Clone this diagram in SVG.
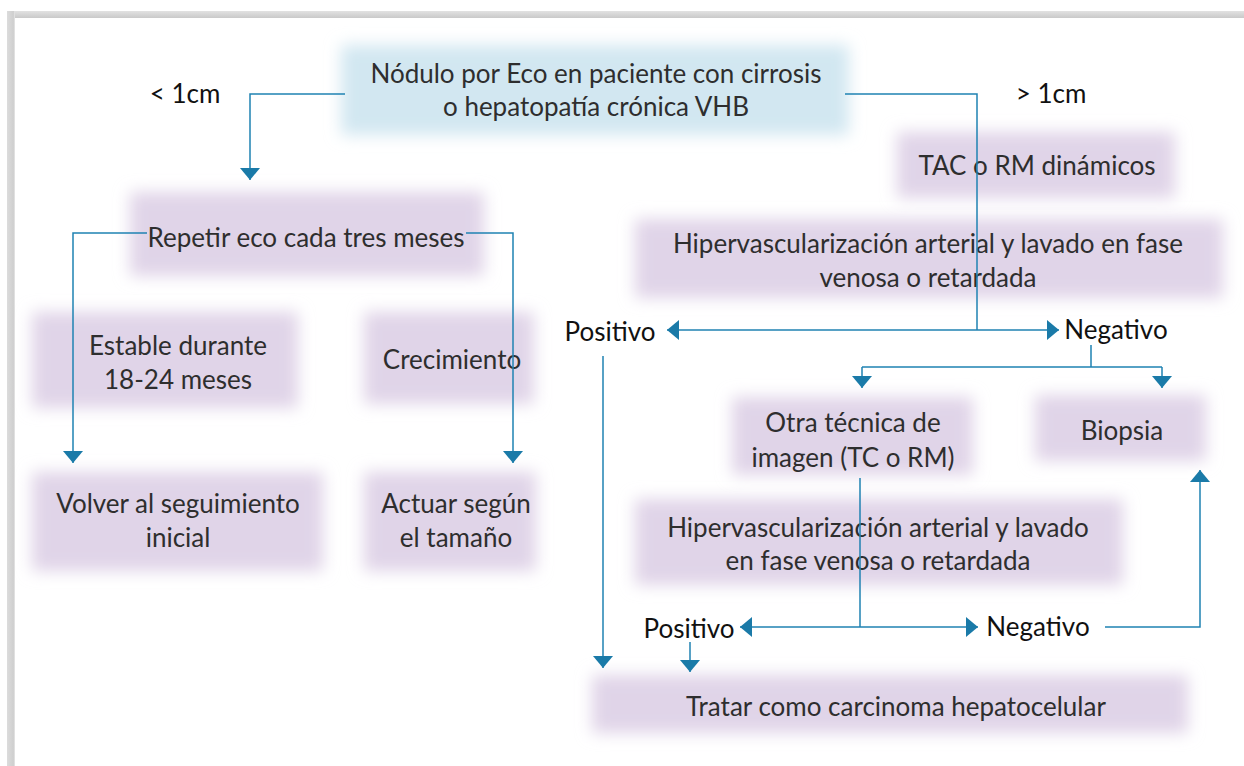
<svg xmlns="http://www.w3.org/2000/svg" width="1244" height="766" viewBox="0 0 1244 766">
  <defs>
    <filter id="soft" filterUnits="userSpaceOnUse" x="0" y="0" width="1244" height="766">
      <feGaussianBlur stdDeviation="8"/>
    </filter>
    <linearGradient id="topband" x1="0" y1="0" x2="0" y2="1">
      <stop offset="0" stop-color="#e2e2e2"/>
      <stop offset="1" stop-color="#c9c9c9"/>
    </linearGradient>
    <linearGradient id="leftband" x1="0" y1="0" x2="1" y2="0">
      <stop offset="0" stop-color="#dcdcdc"/>
      <stop offset="0.8" stop-color="#cfcfcf"/>
      <stop offset="1" stop-color="#e8e8e8"/>
    </linearGradient>
    <marker id="arr" viewBox="0 0 12 20" refX="12" refY="10" markerWidth="12" markerHeight="20" markerUnits="userSpaceOnUse" orient="auto">
      <path d="M0,0 L12,10 L0,20 z" fill="#1a7aa8"/>
    </marker>
  </defs>
  <style>
    .box { fill: #e0d4e8; }
    .boxb { fill: #d2e7f1; }
    .t { font-family: Lato, "Open Sans", "Liberation Sans", sans-serif; font-size: 26px; fill: #2e2e2e; text-anchor: middle; }
    .lbl { font-family: Lato, "Open Sans", "Liberation Sans", sans-serif; font-size: 26px; fill: #111; text-anchor: middle; }
    .c { fill: none; stroke: #1f82b2; stroke-width: 1.5; }
    .ca { fill: none; stroke: #1f82b2; stroke-width: 1.5; marker-end: url(#arr); }
  </style>

  <rect x="0" y="0" width="1244" height="766" fill="#ffffff"/>
  <g id="frame">
    <rect x="7" y="11" width="1237" height="7" fill="url(#topband)"/>
    <rect x="7" y="11" width="8" height="755" fill="url(#leftband)"/>
  </g>

  <g id="n-nodulo">
    <rect class="boxb" filter="url(#soft)" x="341" y="45" width="508" height="90"/>
    <text class="t" x="596" y="83">Nódulo por Eco en paciente con cirrosis</text>
    <text class="t" x="596" y="116">o hepatopatía crónica VHB</text>
  </g>
  <g id="n-repetir">
    <rect class="box" filter="url(#soft)" x="130" y="192" width="354" height="84"/>
    <text class="t" x="306" y="247">Repetir eco cada tres meses</text>
  </g>
  <g id="n-estable">
    <rect class="box" filter="url(#soft)" x="32" y="312" width="266" height="96"/>
    <text class="t" x="178" y="355">Estable durante</text>
    <text class="t" x="178" y="389">18-24 meses</text>
  </g>
  <g id="n-crecimiento">
    <rect class="box" filter="url(#soft)" x="364" y="312" width="170" height="92"/>
    <text class="t" x="452" y="369">Crecimiento</text>
  </g>
  <g id="n-volver">
    <rect class="box" filter="url(#soft)" x="32" y="472" width="291" height="99"/>
    <text class="t" x="178" y="513">Volver al seguimiento</text>
    <text class="t" x="178" y="547">inicial</text>
  </g>
  <g id="n-actuar">
    <rect class="box" filter="url(#soft)" x="364" y="472" width="172" height="99"/>
    <text class="t" x="456" y="513">Actuar según</text>
    <text class="t" x="456" y="547">el tamaño</text>
  </g>
  <g id="n-tac">
    <rect class="box" filter="url(#soft)" x="897" y="132" width="278" height="66"/>
    <text class="t" x="1037" y="175">TAC o RM dinámicos</text>
  </g>
  <g id="n-hiper1">
    <rect class="box" filter="url(#soft)" x="635" y="219" width="588" height="79"/>
    <text class="t" x="928" y="253">Hipervascularización arterial y lavado en fase</text>
    <text class="t" x="928" y="287">venosa o retardada</text>
  </g>
  <g id="n-otra">
    <rect class="box" filter="url(#soft)" x="732" y="397" width="241" height="78"/>
    <text class="t" x="853" y="432">Otra técnica de</text>
    <text class="t" x="853" y="467">imagen (TC o RM)</text>
  </g>
  <g id="n-biopsia">
    <rect class="box" filter="url(#soft)" x="1035" y="395" width="171" height="66"/>
    <text class="t" x="1122" y="440">Biopsia</text>
  </g>
  <g id="n-hiper2">
    <rect class="box" filter="url(#soft)" x="635" y="499" width="488" height="86"/>
    <text class="t" x="878" y="537">Hipervascularización arterial y lavado</text>
    <text class="t" x="878" y="570">en fase venosa o retardada</text>
  </g>
  <g id="n-tratar">
    <rect class="box" filter="url(#soft)" x="592" y="675" width="596" height="58"/>
    <text class="t" x="896" y="716">Tratar como carcinoma hepatocelular</text>
  </g>

  <g id="labels">
    <text class="lbl" x="185" y="103">&lt; 1cm</text>
    <text class="lbl" x="1051" y="103">&gt; 1cm</text>
    <text class="lbl" x="610" y="341">Positivo</text>
    <text class="lbl" x="1116" y="339">Negativo</text>
    <text class="lbl" x="689" y="638">Positivo</text>
    <text class="lbl" x="1038" y="636">Negativo</text>
  </g>

  <g id="connectors">
    <path class="ca" d="M345,94 H250 V180"/>
    <path class="c" d="M845,94 H977 V330"/>
    <path class="ca" d="M977,330 H667"/>
    <path class="ca" d="M977,330 H1059"/>
    <path class="c" d="M1091,345 V367 M862,367 H1162"/>
    <path class="ca" d="M862,367 V388"/>
    <path class="ca" d="M1162,367 V388"/>
    <path class="ca" d="M603,356 V668"/>
    <path class="ca" d="M147,233 H73 V463"/>
    <path class="ca" d="M466,233 H513 V463"/>
    <path class="c" d="M860,478 V627"/>
    <path class="ca" d="M860,627 H740"/>
    <path class="ca" d="M860,627 H978"/>
    <path class="ca" d="M1105,627 H1200 V470"/>
    <path class="ca" d="M690,642 V672"/>
  </g>
</svg>
